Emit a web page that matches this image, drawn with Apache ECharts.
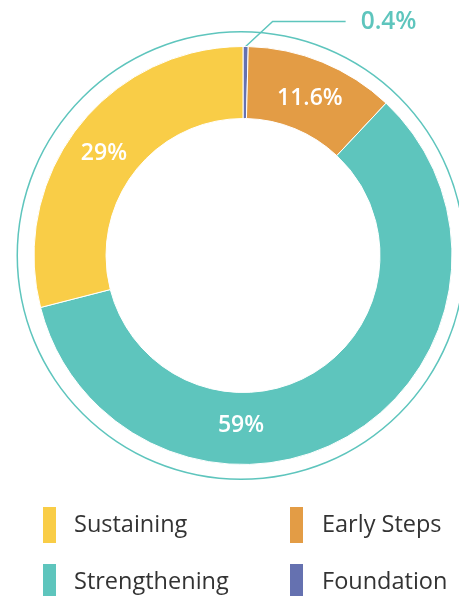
<!DOCTYPE html>
<html>
<head>
<meta charset="utf-8">
<script src="https://cdn.jsdelivr.net/npm/echarts@6/dist/echarts.min.js"></script>
<style>
  html, body { margin: 0; padding: 0; background: #fff; }
  #chart { width: 459px; height: 596px; }
</style>
</head>
<body>
<div id="chart"></div>
<script>
// Share of respondents by maturity stage (clockwise from 12 o'clock)
const stages = ['Foundation', 'Early Steps', 'Strengthening', 'Sustaining'];
const shares = [0.4, 11.6, 59, 29];
const stageColors = ['#6571B0', '#E39C45', '#5EC5BD', '#F9CD47'];
const legendLeft = ['Sustaining', 'Strengthening'];
const legendRight = ['Early Steps', 'Foundation'];

const FONT = '"Open Sans", "Noto Sans", sans-serif';
const TEAL = '#5EC5BD';
const CENTER = [243, 255.5];
const INNER_R = 137;
const OUTER_R = 209;
const MID_R = (INNER_R + OUTER_R) / 2 - 3;

const chart = echarts.init(document.getElementById('chart'), null, { renderer: 'canvas' });

const pieData = stages.map((name, i) => {
  const item = {
    name: name,
    value: shares[i],
    itemStyle: { color: stageColors[i] }
  };
  if (shares[i] < 1) {
    item.label = {
      position: 'outside',
      color: TEAL,
      fontSize: 24.5,
      fontWeight: 600,
      align: 'left',
      verticalAlign: 'middle'
    };
    item.labelLine = {
      show: true,
      length: 20,
      length2: 60,
      lineStyle: { color: TEAL, width: 1.5 }
    };
  }
  return item;
});

const legendCommon = {
  orient: 'vertical',
  top: 505,
  height: 140,
  padding: 0,
  itemWidth: 15,
  itemHeight: 38,
  itemGap: 17,
  icon: 'rect',
  selectedMode: false,
  textStyle: {
    fontFamily: FONT,
    fontSize: 23.5,
    color: '#333',
    padding: [0, 0, 0, 12]
  }
};

chart.setOption({
  animation: false,
  legend: [
    Object.assign({}, legendCommon, { left: 41, data: legendLeft }),
    Object.assign({}, legendCommon, { left: 288, data: legendRight,
      textStyle: Object.assign({}, legendCommon.textStyle, { padding: [0, 0, 0, 13] }) })
  ],
  series: [
    {
      // thin outline ring around the donut
      type: 'pie',
      silent: true,
      center: [241, 255.5],
      radius: [223, 224.5],
      label: { show: false },
      labelLine: { show: false },
      itemStyle: { color: TEAL },
      data: [{ name: '', value: 1 }],
      legendHoverLink: false
    },
    {
      type: 'pie',
      center: CENTER,
      radius: [INNER_R, OUTER_R],
      startAngle: 90,
      clockwise: true,
      itemStyle: { borderColor: '#fff', borderWidth: 1 },
      label: {
        show: true,
        position: 'inside',
        formatter: '{c}%',
        color: '#fff',
        fontFamily: FONT,
        fontSize: 23,
        fontWeight: 600
      },
      labelLayout: function (params) {
        // small slice: elbowed leader line out to the right
        if (params.dataIndex === 0 && params.labelLinePoints) {
          const p0 = params.labelLinePoints[0];
          const p1 = [p0[0] + 27, p0[1] - 25];
          const p2 = [p1[0] + 73, p1[1]];
          return {
            x: p2[0] + 15,
            y: p2[1],
            align: 'left',
            verticalAlign: 'middle',
            labelLinePoints: [p0, p1, p2]
          };
        }
        // largest slice: label sits at the bottom of the ring
        if (params.dataIndex === 2) {
          return {
            x: CENTER[0] - 2,
            y: CENTER[1] + MID_R,
            align: 'center',
            verticalAlign: 'middle'
          };
        }
        return { dy: 6 };
      },
      emphasis: { disabled: true },
      data: pieData
    }
  ]
});
</script>
</body>
</html>
